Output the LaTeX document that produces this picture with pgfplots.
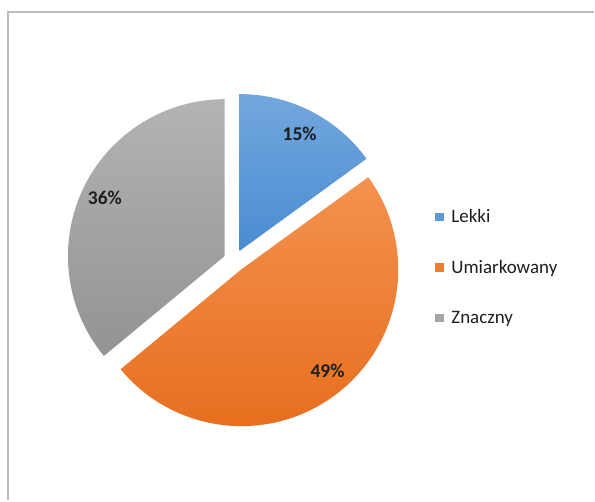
\documentclass[border=0pt]{standalone}
\usepackage{pgfplots}
\pgfplotsset{compat=1.18}
\usepackage{pgfplotstable}
\usepackage{fontspec}
\setmainfont{Carlito}
\definecolor{blueT}{HTML}{72A7DD}
\definecolor{blueB}{HTML}{4A8CD2}
\definecolor{orangeT}{HTML}{F4924F}
\definecolor{orangeB}{HTML}{E66C1B}
\definecolor{grayT}{HTML}{B3B3B3}
\definecolor{grayB}{HTML}{939393}
\definecolor{blueL}{HTML}{5B9BD5}
\definecolor{orangeL}{HTML}{ED7D31}
\definecolor{grayL}{HTML}{A5A5A5}
\definecolor{frame}{HTML}{BDBDBD}
\definecolor{txt}{HTML}{1E1E1E}
\pgfplotstableread{
name value
Lekki 15
Umiarkowany 49
Znaczny 36
}\piedata
\pgfplotstablegetelem{0}{value}\of\piedata \let\vA\pgfplotsretval
\pgfplotstablegetelem{1}{value}\of\piedata \let\vB\pgfplotsretval
\pgfplotstablegetelem{2}{value}\of\piedata \let\vC\pgfplotsretval
\begin{document}
\begin{tikzpicture}
\pgfmathsetmacro{\aA}{90}
\pgfmathsetmacro{\aB}{90-3.6*\vA}
\pgfmathsetmacro{\aC}{\aB-3.6*\vB}
\pgfmathsetmacro{\aD}{\aC-3.6*\vC}
\pgfmathsetmacro{\mA}{(\aA+\aB)/2}
\pgfmathsetmacro{\mB}{(\aB+\aC)/2}
\pgfmathsetmacro{\mC}{(\aC+\aD)/2}
\def\cx{235}\def\cy{240}\def\ex{11}\def\R{157pt}
\begin{axis}[
  x=1pt, y=1pt, xmin=0, xmax=595, ymin=0, ymax=501,
  hide axis, clip=false,
  legend style={at={(axis cs:436,291)}, anchor=north west, draw=none, fill=none,
    font=\fontsize{19}{21}\selectfont\color{txt}, row sep=36pt,
    inner sep=0pt, outer sep=0pt, nodes={inner sep=0pt}},
  legend cell align=left,
  legend image code/.code={\fill[#1] (0pt,-4.25pt) rectangle (8.5pt,4.25pt);
    \path (16pt,0pt);},
]
\path (axis cs:0,0) rectangle (axis cs:595,501);
\draw[frame, line width=1.6pt] (axis cs:8,0) -- (axis cs:8,489) -- (axis cs:595,489);
% slices
\shade[top color=blueT, bottom color=blueB]
  (axis cs:{\cx+\ex*cos(\mA)},{\cy+\ex*sin(\mA)}) -- ++(\aA:\R)
  arc[start angle=\aA, end angle=\aB, radius=\R] -- cycle;
\shade[top color=orangeT, bottom color=orangeB]
  (axis cs:{\cx+\ex*cos(\mB)},{\cy+\ex*sin(\mB)}) -- ++(\aB:\R)
  arc[start angle=\aB, end angle=\aC, radius=\R] -- cycle;
\shade[top color=grayT, bottom color=grayB]
  (axis cs:{\cx+\ex*cos(\mC)},{\cy+\ex*sin(\mC)}) -- ++(\aC:\R)
  arc[start angle=\aC, end angle=\aD, radius=\R] -- cycle;
\node[font=\fontsize{19.5}{21}\selectfont\bfseries, text=txt] at (axis cs:300,367) {\vA\%};
\node[font=\fontsize{19.5}{21}\selectfont\bfseries, text=txt] at (axis cs:328,130) {\vB\%};
\node[font=\fontsize{19.5}{21}\selectfont\bfseries, text=txt] at (axis cs:105,303) {\vC\%};
\addlegendimage{fill=blueL, draw=none}
\addlegendentry{Lekki}
\addlegendimage{fill=orangeL, draw=none}
\addlegendentry{Umiarkowany}
\addlegendimage{fill=grayL, draw=none}
\addlegendentry{Znaczny}
\end{axis}
\end{tikzpicture}
\end{document}
